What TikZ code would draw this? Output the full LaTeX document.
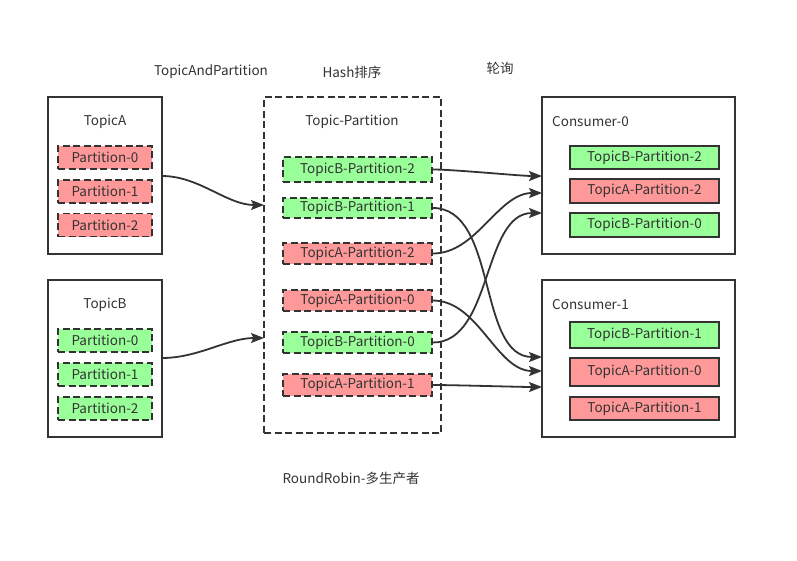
\documentclass[tikz,border=0pt]{standalone}
\usepackage{fontspec}
\setmainfont{Noto Sans CJK SC}
\usetikzlibrary{arrows.meta}
\definecolor{ink}{HTML}{333333}
\definecolor{redf}{HTML}{FF9999}
\definecolor{greenf}{HTML}{99FF99}
\begin{document}
\begin{tikzpicture}[x=1pt,y=-1pt,
  every node/.style={font=\fontsize{13.5}{15}\selectfont, text=ink, inner sep=0pt},
  outer/.style={draw=ink, line width=1.8pt, fill=white, rectangle, minimum width=114pt, minimum height=157pt},
  dsh/.style={dash pattern=on 7pt off 3.5pt},
  lpart/.style={draw=ink, line width=1.8pt, dsh, rectangle, minimum width=94pt, minimum height=23pt},
  mpart/.style={draw=ink, line width=1.8pt, dsh, rectangle, minimum width=149pt},
  cpart/.style={draw=ink, line width=1.8pt, rectangle, minimum width=149pt},
  lbl/.style={},
  conn/.style={draw=ink, line width=1.8pt, -{Stealth[length=13pt,width=10pt,inset=2.5pt]}}
]
\useasboundingbox (0,0) rectangle (797,560);
% titles
\node[lbl] (t1) at (211,72) {TopicAndPartition};
\node[lbl] (t2) at (352,72) {Hash排序};
\node[lbl] (t3) at (500,68) {轮询};
\node[lbl] (t4) at (351,478) {RoundRobin-多生产者};

% Topic A
\node[outer] (TA) at (105,175.5) {};
\node (TAl) at (105,121.5) {TopicA};
\node[lpart, fill=redf] (a0) at (105,157.5) {Partition-0};
\node[lpart, fill=redf] (a1) at (105,191.5) {Partition-1};
\node[lpart, fill=redf] (a2) at (105,225) {Partition-2};

% Topic B
\node[outer] (TB) at (105,358.5) {};
\node (TBl) at (105,304.5) {TopicB};
\node[lpart, fill=greenf] (b0) at (105,340.5) {Partition-0};
\node[lpart, fill=greenf] (b1) at (105,374.5) {Partition-1};
\node[lpart, fill=greenf] (b2) at (105,408.5) {Partition-2};

% Middle
\node[draw=ink, line width=1.8pt, dsh, rectangle, minimum width=177pt, minimum height=336pt] (M) at (352.5,265) {};
\node (Ml) at (352,121.5) {Topic-Partition};
\node[mpart, fill=greenf, minimum height=25pt] (mB2) at (357.5,169.5) {TopicB-Partition-2};
\node[mpart, fill=greenf, minimum height=20pt] (mB1) at (357.5,208) {TopicB-Partition-1};
\node[mpart, fill=redf, minimum height=21pt] (mA2) at (357.5,253.5) {TopicA-Partition-2};
\node[mpart, fill=redf, minimum height=21pt] (mA0) at (357.5,300.5) {TopicA-Partition-0};
\node[mpart, fill=greenf, minimum height=21pt] (mB0) at (357.5,342.5) {TopicB-Partition-0};
\node[mpart, fill=redf, minimum height=22pt] (mA1) at (357.5,385) {TopicA-Partition-1};

% Consumers
\node[outer, minimum width=193pt] (C0) at (638.5,175.5) {};
\node[anchor=west] (C0l) at (552,121.5) {Consumer-0};
\node[cpart, fill=greenf, minimum height=23pt] (c0a) at (644.5,157.5) {TopicB-Partition-2};
\node[cpart, fill=redf, minimum height=24pt] (c0b) at (644.5,191) {TopicA-Partition-2};
\node[cpart, fill=greenf, minimum height=24pt] (c0c) at (644.5,225) {TopicB-Partition-0};

\node[outer, minimum width=193pt] (C1) at (638.5,358.5) {};
\node[anchor=west] (C1l) at (552,304.5) {Consumer-1};
\node[cpart, fill=greenf, minimum height=26pt] (c1a) at (644.5,335) {TopicB-Partition-1};
\node[cpart, fill=redf, minimum height=28pt] (c1b) at (644.5,372) {TopicA-Partition-0};
\node[cpart, fill=redf, minimum height=23pt] (c1c) at (644.5,408.5) {TopicA-Partition-1};

% connectors
\coordinate (TAo) at (162,176);
\coordinate (TBo) at (162,358);
\coordinate (Mi1) at (264,205);
\coordinate (Mi2) at (264,338);
\coordinate (C0i1) at (542,176);
\coordinate (C0i2) at (542,193);
\coordinate (C0i3) at (542,213);
\coordinate (C1i1) at (542,357);
\coordinate (C1i2) at (542,371);
\coordinate (C1i3) at (542,387);

\draw[conn] (TAo) to[out=0,in=180,looseness=0.9] (Mi1);
\draw[conn] (TBo) to[out=0,in=180,looseness=0.9] (Mi2);
\draw[conn] (mB2.east) to[out=0,in=180,looseness=0.5] (C0i1);
\draw[conn] (mB1.east) to[out=0,in=180,looseness=0.9] (C1i1);
\draw[conn] (mA2.east) to[out=0,in=180,looseness=0.9] (C0i2);
\draw[conn] (mA0.east) to[out=0,in=180,looseness=0.9] (C1i2);
\draw[conn] (mB0.east) to[out=0,in=180,looseness=0.9] (C0i3);
\draw[conn] (mA1.east) to[out=0,in=180,looseness=0.5] (C1i3);
\end{tikzpicture}
\end{document}
